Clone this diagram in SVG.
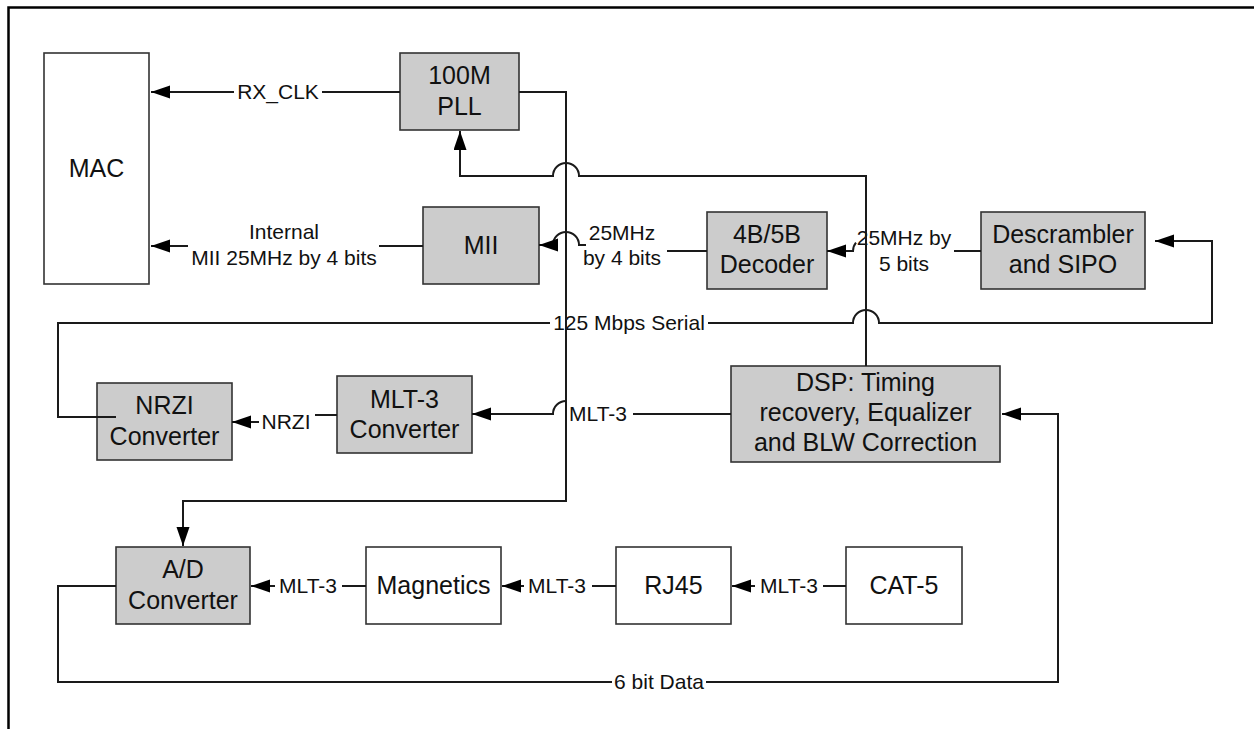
<svg xmlns="http://www.w3.org/2000/svg" width="1254" height="729" viewBox="0 0 1254 729">
<style>
  .box { stroke: #333333; stroke-width: 1.6; }
  .gray { fill: #cccccc; }
  .white { fill: #ffffff; }
  .bt { font-family: "Liberation Sans", Arial, sans-serif; font-size: 25px; fill: #111111; text-anchor: middle; }
  .lt { font-family: "Liberation Sans", Arial, sans-serif; font-size: 21px; fill: #111111; text-anchor: middle; }
  .wire { fill: none; stroke: #1a1a1a; stroke-width: 2; stroke-linecap: butt; stroke-linejoin: miter; }
  .arr { marker-end: url(#ah); }
  .frame { fill: none; stroke: #000000; stroke-width: 2.5; }
</style>
<defs>
  <marker id="ah" markerUnits="userSpaceOnUse" markerWidth="20" markerHeight="14" refX="19" refY="6.5" orient="auto">
    <path d="M0,0 L19,6.5 L0,13 Z" fill="#000000"/>
  </marker>
</defs>
<rect x="0" y="0" width="1254" height="729" fill="#ffffff"/>
<path class="frame" d="M8.5,729 V7.5 H1254"/>

<g id="mac"><rect class="box white" x="44" y="53" width="105" height="231"/><text class="bt" x="96.5" y="177">MAC</text></g>
<g id="pll"><rect class="box gray" x="400" y="53" width="119" height="77"/><text class="bt" x="459.5" y="84">100M</text><text class="bt" x="459.5" y="115">PLL</text></g>
<g id="mii"><rect class="box gray" x="423" y="207" width="116" height="77"/><text class="bt" x="481" y="254">MII</text></g>
<g id="decoder"><rect class="box gray" x="707" y="212" width="120" height="77"/><text class="bt" x="767" y="243">4B/5B</text><text class="bt" x="767" y="273">Decoder</text></g>
<g id="descrambler"><rect class="box gray" x="981" y="212" width="164" height="77"/><text class="bt" x="1063" y="243">Descrambler</text><text class="bt" x="1063" y="273">and SIPO</text></g>
<g id="nrzi"><rect class="box gray" x="97" y="383" width="135" height="77"/><text class="bt" x="164.5" y="414">NRZI</text><text class="bt" x="164.5" y="445">Converter</text></g>
<g id="mlt3"><rect class="box gray" x="337" y="376" width="135" height="77"/><text class="bt" x="404.5" y="408">MLT-3</text><text class="bt" x="404.5" y="438">Converter</text></g>
<g id="dsp"><rect class="box gray" x="731" y="366" width="269" height="96"/><text class="bt" x="865.5" y="391">DSP: Timing</text><text class="bt" x="865.5" y="421">recovery, Equalizer</text><text class="bt" x="865.5" y="451">and BLW Correction</text></g>
<g id="adc"><rect class="box gray" x="116" y="547" width="134" height="77"/><text class="bt" x="183" y="578">A/D</text><text class="bt" x="183" y="609">Converter</text></g>
<g id="magnetics"><rect class="box white" x="366" y="547" width="135" height="77"/><text class="bt" x="433.5" y="594">Magnetics</text></g>
<g id="rj45"><rect class="box white" x="616" y="547" width="115" height="77"/><text class="bt" x="673.5" y="594">RJ45</text></g>
<g id="cat5"><rect class="box white" x="846" y="547" width="116" height="77"/><text class="bt" x="904" y="594">CAT-5</text></g>

<g id="connectors">
  <path class="wire arr" d="M400,92 H322 M234,92 H151"/>
  <text class="lt" x="278" y="99">RX_CLK</text>

  <path class="wire arr" d="M423,246 H379 M188,246 H151"/>
  <text class="lt" x="284" y="239">Internal</text>
  <text class="lt" x="284" y="265">MII 25MHz by 4 bits</text>

  <path class="wire arr" d="M707,251 H667 M586,245 H579 A13,13 0 0 0 553,245 H539"/>
  <text class="lt" x="622" y="240">25MHz</text>
  <text class="lt" x="622" y="265">by 4 bits</text>

  <path class="wire arr" d="M981,251 H954 M856,242.7 A13,13 0 0 0 853,251 H827"/>
  <text class="lt" x="904" y="245">25MHz by</text>
  <text class="lt" x="904" y="271">5 bits</text>

  <path class="wire arr" d="M116,417 H58 V323 H550 M708,323 H853 A13,13 0 0 1 879,323 H1212 V241 H1155"/>
  <text class="lt" x="629" y="330">125 Mbps Serial</text>

  <path class="wire arr" d="M731,414 H633 M566,401 A13,13 0 0 0 553,414 H472"/>
  <text class="lt" x="598" y="421">MLT-3</text>

  <path class="wire arr" d="M337,415 H315 M259,422 H232"/>
  <text class="lt" x="286" y="429">NRZI</text>

  <path class="wire arr" d="M366,586 H342 M275,586 H251"/>
  <text class="lt" x="308" y="593">MLT-3</text>
  <path class="wire arr" d="M616,586 H592 M524,586 H502"/>
  <text class="lt" x="557" y="593">MLT-3</text>
  <path class="wire arr" d="M846,586 H823 M755,586 H732"/>
  <text class="lt" x="789" y="593">MLT-3</text>

  <path class="wire arr" d="M116,586 H58 V682 H612 M706,682 H1058 V414 H1002"/>
  <text class="lt" x="659" y="689">6 bit Data</text>

  <path class="wire arr" d="M866,366 V176 H579 A13,13 0 0 0 553,176 H460 V131"/>
  <path class="wire arr" d="M519,92 H566 V501 H183 V546"/>
</g>
</svg>
